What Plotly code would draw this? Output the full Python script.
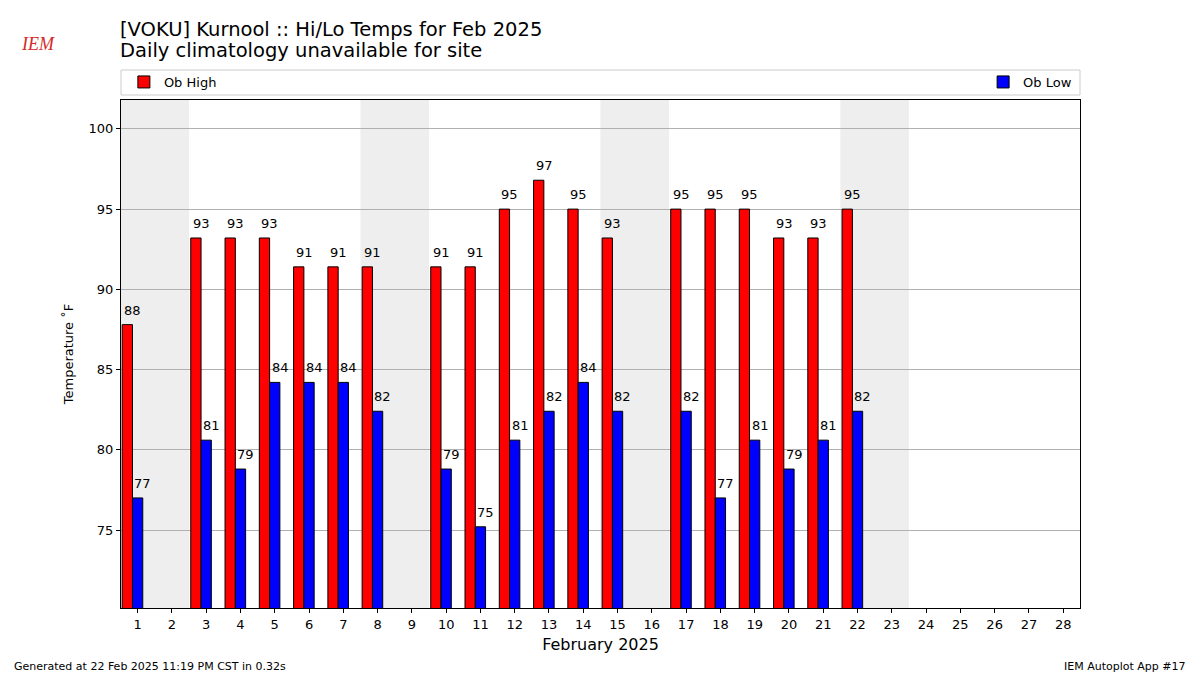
import plotly.graph_objects as go

days = list(range(1, 29))
obs_days = [1, 3, 4, 5, 6, 7, 8, 10, 11, 12, 13, 14, 15, 17, 18, 19, 20, 21, 22]
ob_high = [87.8, 93.2, 93.2, 93.2, 91.4, 91.4, 91.4, 91.4, 91.4, 95.0, 96.8, 95.0, 93.2,
           95.0, 95.0, 95.0, 93.2, 93.2, 95.0]
ob_low = [77.0, 80.6, 78.8, 84.2, 84.2, 84.2, 82.4, 78.8, 75.2, 80.6, 82.4, 84.2, 82.4,
          82.4, 77.0, 80.6, 78.8, 80.6, 82.4]
weekend_starts = [1, 8, 15, 22]  # Saturdays
yticks = [75, 80, 85, 90, 95, 100]

FONT = "DejaVu Sans"
BW = 0.3

fig = go.Figure()
fig.add_trace(go.Bar(x=obs_days, y=ob_high, width=BW, offset=-1.5 * BW, name="Ob High",
                     marker=dict(color="#ff0000", line=dict(color="black", width=1)),
                     legend="legend", showlegend=True))
fig.add_trace(go.Bar(x=obs_days, y=ob_low, width=BW, offset=-0.5 * BW, name="Ob Low",
                     marker=dict(color="#0000ff", line=dict(color="black", width=1)),
                     legend="legend2", showlegend=True))

W, H = 1200, 675
L, R, T, B = 121, 120, 100, 67
pw, ph = W - L - R, H - T - B

def px(xp):
    return (xp - L) / pw

def py(yp):
    return (H - B - yp) / ph

shapes = []
for s in weekend_starts:
    shapes.append(dict(type="rect", xref="x", yref="paper", x0=s - 0.5, x1=s + 1.5,
                       y0=0, y1=1, fillcolor="#eeeeee", line=dict(width=0), layer="below"))
# legend frame
shapes.append(dict(type="rect", xref="paper", yref="paper", x0=0, x1=1,
                   y0=py(95), y1=py(70), line=dict(color="#cccccc", width=1),
                   fillcolor="rgba(0,0,0,0)"))

annotations = []
for d, h, l in zip(obs_days, ob_high, ob_low):
    annotations.append(dict(x=d - 1.5 * BW, y=h, xref="x", yref="y", text=f"{round(h):.0f}",
                            showarrow=False, xanchor="left", yanchor="bottom", yshift=5,
                            font=dict(size=13, color="black", family=FONT)))
    annotations.append(dict(x=d - 0.5 * BW, y=l, xref="x", yref="y", text=f"{round(l):.0f}",
                            showarrow=False, xanchor="left", yanchor="bottom", yshift=5,
                            font=dict(size=13, color="black", family=FONT)))

annotations += [
    dict(x=px(118), y=py(29), xref="paper", yref="paper", xanchor="left", yanchor="middle",
         text="[VOKU] Kurnool :: Hi/Lo Temps for Feb 2025", showarrow=False,
         font=dict(size=19.5, family=FONT, color="black")),
    dict(x=px(118), y=py(51), xref="paper", yref="paper", xanchor="left", yanchor="middle",
         text="Daily climatology unavailable for site", showarrow=False,
         font=dict(size=19.5, family=FONT, color="black")),
    dict(x=px(12), y=py(666), xref="paper", yref="paper", xanchor="left", yanchor="middle",
         text="Generated at 22 Feb 2025 11:19 PM CST in 0.32s", showarrow=False,
         font=dict(size=11, family=FONT, color="black")),
    dict(x=px(1188), y=py(666), xref="paper", yref="paper", xanchor="right", yanchor="middle",
         text="IEM Autoplot App #17", showarrow=False,
         font=dict(size=11, family=FONT, color="black")),
    dict(x=px(38), y=py(44), xref="paper", yref="paper", xanchor="center", yanchor="middle",
         text="<i>IEM</i>", showarrow=False,
         font=dict(size=18, family="Liberation Serif", color="#d42a2a")),
]

fig.update_layout(
    width=W, height=H,
    margin=dict(l=L, r=R, t=T, b=B, autoexpand=False),
    paper_bgcolor="white", plot_bgcolor="white",
    barmode="overlay", showlegend=True,
    font=dict(family=FONT, size=13, color="black"),
    shapes=shapes, annotations=annotations,
    legend=dict(x=0.003, y=py(82), xanchor="left", yanchor="middle",
                orientation="h", bgcolor="rgba(0,0,0,0)", font=dict(size=13, family=FONT)),
    legend2=dict(x=0.997, y=py(82), xanchor="right", yanchor="middle",
                 orientation="h", bgcolor="rgba(0,0,0,0)", font=dict(size=13, family=FONT)),
    xaxis=dict(range=[0.515, 28.49], tickmode="array", tickvals=days,
               ticktext=[str(d) for d in days], showgrid=False, zeroline=False,
               ticks="outside", ticklen=4, tickcolor="black", showline=True,
               linecolor="black", linewidth=1, mirror=True,
               title=dict(text="February 2025", font=dict(size=16, family=FONT), standoff=8),
               tickfont=dict(size=13, family=FONT)),
    yaxis=dict(range=[70.14, 101.8], tickmode="array", tickvals=yticks,
               showgrid=True, gridcolor="#b0b0b0", gridwidth=1, zeroline=False,
               ticks="outside", ticklen=4, tickcolor="black", showline=True,
               linecolor="black", linewidth=1, mirror=True,
               title=dict(text="Temperature ˚F", font=dict(size=13, family=FONT), standoff=12),
               tickfont=dict(size=13, family=FONT)),
)

fig.write_html("out.html", config={"displayModeBar": False},
               post_script="document.body.style.margin='0';")
